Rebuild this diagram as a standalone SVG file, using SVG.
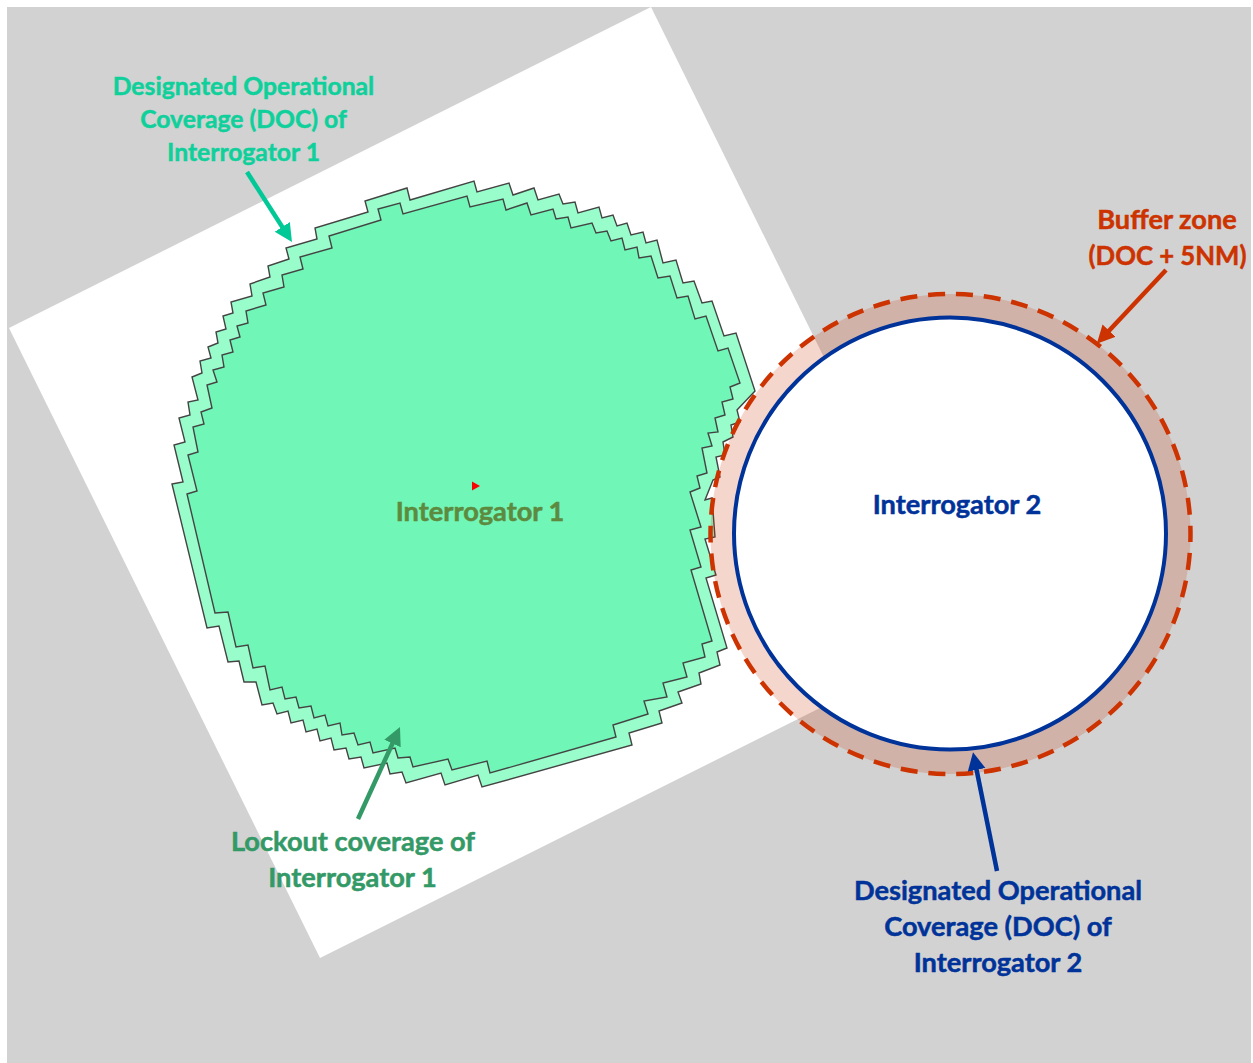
<svg xmlns="http://www.w3.org/2000/svg" width="1253" height="1063" viewBox="0 0 1253 1063">
<style>
text{font-family:"Lato","Carlito","Liberation Sans",sans-serif;font-weight:700;text-anchor:middle;font-size:24.7px;stroke-width:0.5px}
.big{font-size:27.2px}
.teal{fill:#0fd09b;stroke:#0fd09b}.red{fill:#cc3300;stroke:#cc3300}.blue{fill:#003399;stroke:#003399}.green{fill:#339966;stroke:#339966}.olive{fill:#5d8a3f;stroke:#5d8a3f}
.cov{stroke:#444444;stroke-width:1.4;stroke-linejoin:miter}
.ar{fill:none;stroke-width:4.5}
</style>
<defs>
<marker id="hT" markerUnits="userSpaceOnUse" markerWidth="20" markerHeight="20" refX="6" refY="9" orient="auto"><path d="M0,0L18,9L0,18z" fill="#00c896"/></marker>
<marker id="hR" markerUnits="userSpaceOnUse" markerWidth="20" markerHeight="20" refX="6" refY="9" orient="auto"><path d="M0,0L18,9L0,18z" fill="#cc3300"/></marker>
<marker id="hB" markerUnits="userSpaceOnUse" markerWidth="20" markerHeight="20" refX="6" refY="9" orient="auto"><path d="M0,0L18,9L0,18z" fill="#003399"/></marker>
<marker id="hG" markerUnits="userSpaceOnUse" markerWidth="20" markerHeight="20" refX="6" refY="9" orient="auto"><path d="M0,0L18,9L0,18z" fill="#339966"/></marker>
</defs>
<rect width="1253" height="1063" fill="#ffffff"/>
<rect x="7" y="7" width="1244" height="1056" fill="#d2d2d2"/>
<polygon points="651,7 9,328 320,958 962,637" fill="#ffffff"/>
<g id="lockout-coverage">
<polygon class="cov" fill="#98fdcb" points="172,484 183,482 174,445 185,442 179,418 190,415 188,402 198,400 192,377 202,373 200,361 211,358 208,347 218,343 216,332 226,329 223,316 233,313 231,302 252,296 250,284 270,277 268,266 289,259 286,248 317,239 315,228 368,212 365,201 407,188 410,200 474,181 477,192 509,183 513,195 534,188 538,200 559,194 563,204 575,202 578,213 599,207 602,218 613,215 617,226 627,223 631,235 643,232 646,243 657,240 663,263 676,260 683,283 694,281 702,303 712,301 724,336 736,333 755,391 737,410 740,422 731,425 733,437 723,442 725,455 716,457 720,477 713,480 705,500 712,498 715,537 705,539 716,575 706,578 727,648 717,652 720,665 699,673 701,684 678,692 682,703 659,711 662,723 629,733 632,745 482,787 478,775 445,785 441,773 406,783 402,772 390,774 387,763 364,768 361,757 349,759 346,748 334,750 331,738 320,741 317,729 306,732 303,720 291,723 288,711 277,714 273,703 262,705 256,682 244,682 239,661 228,662 219,626 207,628"/>
</g>
<g id="doc-interrogator-1">
<polygon class="cov" fill="#70f6b6" points="187,494 197,491 188,455 198,452 193,427 204,424 201,412 212,408 207,385 217,382 213,370 224,367 222,355 233,352 230,340 240,337 237,326 248,323 246,311 266,305 263,293 284,287 282,275 303,269 300,257 332,248 329,236 381,220 378,209 400,203 403,214 467,196 470,207 503,199 506,210 527,203 531,215 553,209 556,219 568,217 571,228 592,223 596,233 607,231 611,241 622,238 625,250 637,247 639,258 651,256 658,278 670,276 677,298 688,296 695,319 706,316 718,351 728,348 740,383 730,387 733,399 722,402 725,415 715,418 718,432 708,433 712,446 702,448 707,473 697,476 700,488 690,492 701,527 690,530 701,567 691,570 712,641 702,644 705,657 683,663 687,677 663,683 667,697 644,701 648,714 613,725 616,737 490,773 487,761 452,770 448,759 413,767 410,757 398,758 395,748 373,753 370,742 358,745 354,733 342,735 340,723 328,726 325,715 314,718 311,706 299,708 296,697 285,699 282,687 270,690 265,666 253,668 248,645 236,647 228,612 215,613"/>
<polygon id="interrogator-1-marker" points="472,481.5 480,486 472,490.5" fill="#ff0000"/>
<text class="olive big" x="480" y="521">Interrogator 1</text>
</g>
<g id="buffer-zone">
<circle cx="950.5" cy="534" r="240" fill="#cc3300" fill-opacity="0.2"/>
<circle cx="950.5" cy="534" r="240" fill="none" stroke="#cc3300" stroke-width="4.5" stroke-dasharray="17 10.925" stroke-dashoffset="-19"/>
</g>
<g id="doc-interrogator-2">
<circle cx="950" cy="533.5" r="216" fill="#ffffff" stroke="#003399" stroke-width="4"/>
<text class="blue big" x="957" y="514">Interrogator 2</text>
</g>
<g id="connectors">
<line class="ar" x1="247" y1="172" x2="285.5" y2="232" stroke="#00c896" marker-end="url(#hT)"/>
<line class="ar" x1="1166" y1="270" x2="1105" y2="335" stroke="#cc3300" marker-end="url(#hR)"/>
<line class="ar" x1="997" y1="871" x2="975.4" y2="764" stroke="#003399" marker-end="url(#hB)"/>
<line class="ar" x1="358" y1="819" x2="395" y2="738" stroke="#339966" marker-end="url(#hG)"/>
</g>
<g id="label-doc-1">
<text class="teal" x="243.5" y="95">Designated Operational</text>
<text class="teal" x="243.5" y="128">Coverage (DOC) of</text>
<text class="teal" x="243.5" y="161">Interrogator 1</text>
</g>
<g id="label-buffer">
<text class="red big" x="1167" y="229">Buffer zone</text>
<text class="red big" x="1167.5" y="265" textLength="158" lengthAdjust="spacingAndGlyphs">(DOC + 5NM)</text>
</g>
<g id="label-doc-2">
<text class="blue big" x="998" y="900">Designated Operational</text>
<text class="blue big" x="998" y="936">Coverage (DOC) of</text>
<text class="blue big" x="998" y="972">Interrogator 2</text>
</g>
<g id="label-lockout">
<text class="green big" x="353" y="851">Lockout coverage of</text>
<text class="green big" x="352.5" y="887">Interrogator 1</text>
</g>
</svg>
